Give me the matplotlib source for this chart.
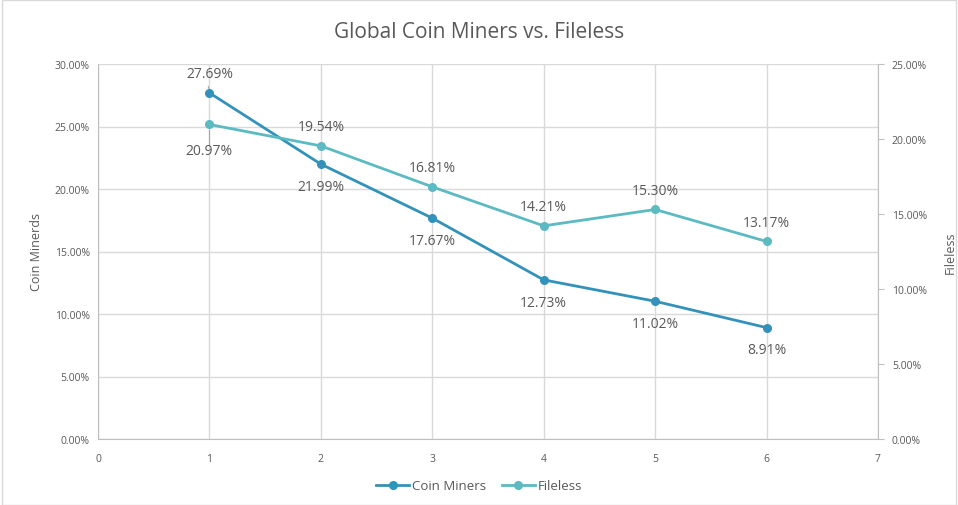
import matplotlib
matplotlib.use("Agg")
import matplotlib.pyplot as plt
from matplotlib.ticker import FuncFormatter
from matplotlib.patches import Rectangle

plt.rcParams['font.family'] = ['Open Sans', 'DejaVu Sans']

x = [1, 2, 3, 4, 5, 6]
coin_miners = [27.69, 21.99, 17.67, 12.73, 11.02, 8.91]
fileless = [20.97, 19.54, 16.81, 14.21, 15.30, 13.17]
coin_pos = ['above', 'below', 'below', 'below', 'below', 'below']
file_pos = ['below', 'above', 'above', 'above', 'above', 'above']

c_coin = '#3392BA'
c_file = '#5BBAC2'
txt = '#595959'
grid = '#D9D9D9'

fig = plt.figure(figsize=(9.58, 5.06), dpi=100)
fig.patches.append(Rectangle((0.002, 0.0), 0.996, 0.998, transform=fig.transFigure,
                             fill=False, edgecolor='#D9D9D9', linewidth=1))
ax = fig.add_axes([98/958, 1-440/506, 780/958, 375/506])
ax2 = ax.twinx()

ax.set_xlim(0, 7)
ax.set_ylim(0, 30)
ax2.set_ylim(0, 25)
ax.set_xticks(range(0, 8))
ax.set_yticks(range(0, 31, 5))
ax2.set_yticks(range(0, 26, 5))
fmt = FuncFormatter(lambda v, p: f"{v:.2f}%")
ax.yaxis.set_major_formatter(fmt)
ax2.yaxis.set_major_formatter(fmt)

ax.grid(True, color=grid, linewidth=1)
ax.set_axisbelow(True)
for a in (ax, ax2):
    for s in a.spines.values():
        s.set_visible(False)
ax.spines['left'].set_visible(True)
ax.spines['left'].set_color('#BFBFBF')
ax.spines['bottom'].set_visible(True)
ax.spines['bottom'].set_color('#BFBFBF')
ax2.spines['right'].set_visible(True)
ax2.spines['right'].set_color('#BFBFBF')

ax.tick_params(axis='both', length=0, labelsize=7.5, labelcolor=txt, pad=10)
ax.tick_params(axis='y', pad=6)
ax2.tick_params(axis='y', length=4, color='#BFBFBF', labelsize=7.5, labelcolor=txt, pad=6)

l1, = ax.plot(x, coin_miners, color=c_coin, linewidth=2, marker='o', markersize=5.5,
              label='Coin Miners', zorder=3)
l2, = ax2.plot(x, fileless, color=c_file, linewidth=2, marker='o', markersize=5.5,
               label='Fileless', zorder=3)

for xi, v, p in zip(x, coin_miners, coin_pos):
    off = 14 if p == 'above' else -16
    ax.annotate(f"{v:.2f}%", (xi, v), xytext=(0, off), textcoords='offset points',
                ha='center', va='center', fontsize=10, color=txt)
for xi, v, p in zip(x, fileless, file_pos):
    off = 14 if p == 'above' else -19
    ax2.annotate(f"{v:.2f}%", (xi, v), xytext=(0, off), textcoords='offset points',
                 ha='center', va='center', fontsize=10, color=txt)

# leader lines at point 1
ax.plot([0.99, 1.0], [28.2, 27.9], color='#A6A6A6', linewidth=0.8, zorder=2)
ax2.plot([1.0, 1.0], [20.6, 19.6], color='#A6A6A6', linewidth=0.8, zorder=2)

ax.set_ylabel('Coin Minerds', fontsize=9, color=txt, labelpad=8)
ax2.set_ylabel('Fileless', fontsize=9, color=txt, rotation=90, labelpad=12)

fig.text(0.5, 1-33/506, 'Global Coin Miners vs. Fileless', ha='center', va='center',
         fontsize=15, color=txt)

fig.legend([l1, l2], ['Coin Miners', 'Fileless'], loc='center', bbox_to_anchor=(0.5, 1-487/506),
           ncol=2, frameon=False, fontsize=9.5, labelcolor=txt, handlelength=2.5,
           columnspacing=1.2, handletextpad=0.2)

fig.savefig('out.png', dpi=100)
